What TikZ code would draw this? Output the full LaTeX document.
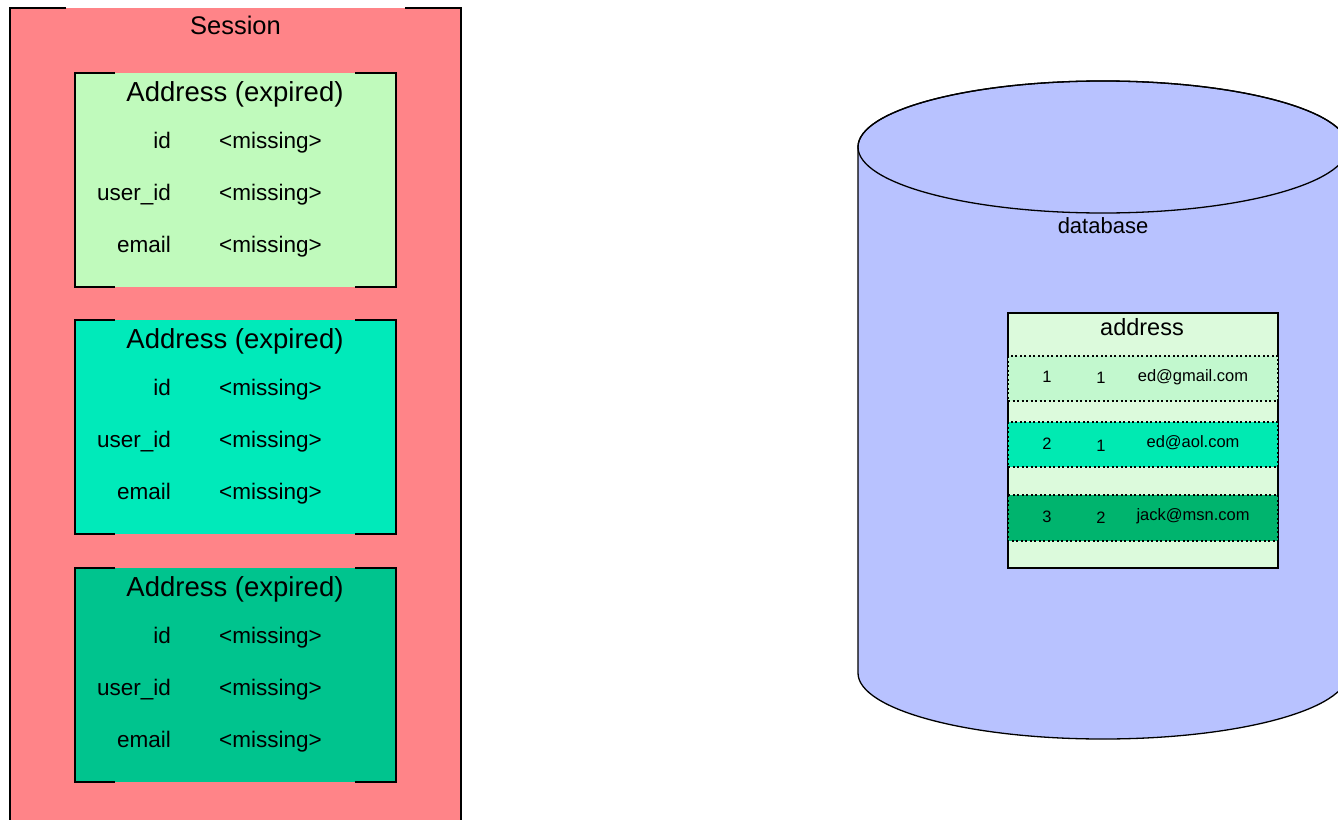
\documentclass[tikz,border=0pt]{standalone}
\usepackage{fontspec}
\setmainfont{Liberation Sans}
\definecolor{sessionred}{HTML}{FF8488}
\definecolor{rowA}{HTML}{C0FABC}
\definecolor{rowB}{HTML}{00EABA}
\definecolor{rowC}{HTML}{00C48E}
\definecolor{dbblue}{HTML}{B8C2FF}
\definecolor{tablebg}{HTML}{DCFADC}
\definecolor{recA}{HTML}{C2F8CE}
\definecolor{recB}{HTML}{00EAB2}
\definecolor{recC}{HTML}{00B46E}
\tikzset{
  outline/.style={draw=black, line width=1.3pt},
  txt/.style={inner sep=0pt, text=black},
  bigtitle/.style={txt, anchor=base, font=\fontsize{27.5}{32}\selectfont},
  sesstitle/.style={txt, anchor=base, font=\fontsize{25.5}{30}\selectfont},
  fieldtxt/.style={txt, font=\fontsize{22.5}{26}\selectfont},
  rowtxt/.style={txt, anchor=base, font=\fontsize{16.5}{20}\selectfont},
  recbox/.style={draw=black, line width=1.1pt, dash pattern=on 2pt off 2.5pt},
}
\begin{document}
\begin{tikzpicture}[x=1pt,y=-1pt]
\useasboundingbox (0,0) rectangle (1338,819);
\clip (0,0) rectangle (1338,819);

% session container, open at the title
\fill[sessionred] (10,8) rectangle (461,830);
\draw[outline] (66,8) -- (10,8) -- (10,830);
\draw[outline] (405,8) -- (461,8) -- (461,830);
\node[sesstitle] (session) at (235.5,34) {Session};

% expired Address objects
\foreach \top/\col/\nm in {73/rowA/a1, 320/rowB/a2, 568/rowC/a3}{
  \pgfmathsetmacro{\bot}{\top+214}
  \fill[\col] (75,\top) rectangle (396,\bot);
  \draw[outline] (115,\top) -- (75,\top) -- (75,\bot) -- (115,\bot);
  \draw[outline] (355,\top) -- (396,\top) -- (396,\bot) -- (355,\bot);
  \node[bigtitle] (\nm-title) at (235,\top+28) {Address (expired)};
  \node[fieldtxt, anchor=base east] (\nm-idk) at (171,\top+75) {id};
  \node[fieldtxt, anchor=base west] (\nm-idv) at (219,\top+75) {<missing>};
  \node[fieldtxt, anchor=base east] (\nm-uk) at (171,\top+127) {user\_id};
  \node[fieldtxt, anchor=base west] (\nm-uv) at (219,\top+127) {<missing>};
  \node[fieldtxt, anchor=base east] (\nm-ek) at (171,\top+179) {email};
  \node[fieldtxt, anchor=base west] (\nm-ev) at (219,\top+179) {<missing>};
}

% database cylinder
\filldraw[fill=dbblue, outline] (858,147) -- (858,673)
  arc[start angle=180, end angle=0, x radius=245, y radius=66]
  -- (1348,147)
  arc[start angle=0, end angle=-180, x radius=245, y radius=66] -- cycle;
\draw[outline] (1103,147) ellipse [x radius=245, y radius=66];
\node[fieldtxt, anchor=base, font=\fontsize{22}{26}\selectfont] (db) at (1103,233) {database};

% address table
\filldraw[fill=tablebg, outline] (1008,313) rectangle (1278,568);
\node[txt, anchor=base, font=\fontsize{23.5}{28}\selectfont] (tbl) at (1142,335) {address};
\filldraw[fill=recA, recbox] (1008,356) rectangle (1278,401);
\filldraw[fill=recB, recbox] (1008,422) rectangle (1278,467);
\filldraw[fill=recC, recbox] (1008,495) rectangle (1278,541);
\foreach \ya/\yb/\yc/\a/\b/\m/\nm in {382/383/381/1/1/ed@gmail.com/r1, 449/451/447/2/1/ed@aol.com/r2, 522/523/520/3/2/jack@msn.com/r3}{
  \node[rowtxt] (\nm-id) at (1047,\ya) {\a};
  \node[rowtxt] (\nm-uid) at (1101,\yb) {\b};
  \node[rowtxt] (\nm-mail) at (1193,\yc) {\m};
}
\end{tikzpicture}
\end{document}
